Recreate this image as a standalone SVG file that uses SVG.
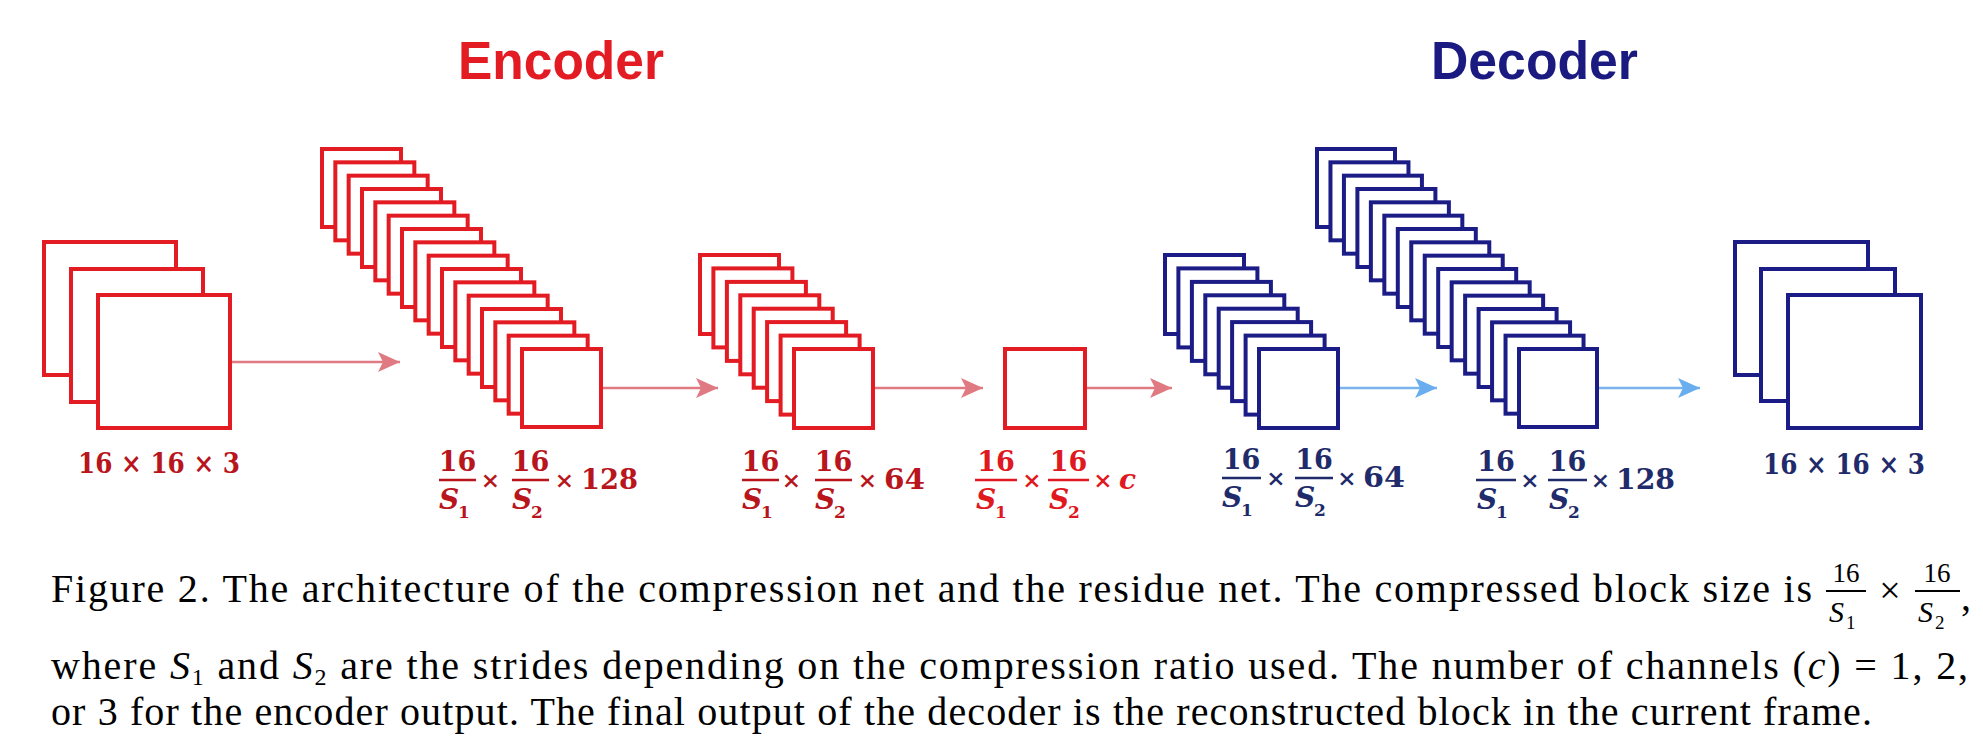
<svg xmlns="http://www.w3.org/2000/svg" width="1983" height="746" viewBox="0 0 1983 746">
<style>
.er{fill:#fff;stroke:#e31b23;stroke-width:4}
.dr{fill:#fff;stroke:#1c1c86;stroke-width:4}
.ttl{font-family:"Liberation Sans",Arial,sans-serif;font-weight:bold;font-size:54px}
.lb{font-family:"DejaVu Serif",serif;font-weight:bold;font-size:27px}
.lx{font-family:"DejaVu Serif",serif;font-weight:bold;font-size:23px}
.si{font-family:"DejaVu Serif",serif;font-weight:bold;font-style:italic;font-size:28px}
.sb{font-family:"DejaVu Serif",serif;font-weight:bold;font-size:17px}
.redl{fill:#b8151d}
.redc{fill:#e01820}
.navl{fill:#1f2b6a}
.barr{stroke:#b8151d;stroke-width:2.5}
.barc{stroke:#e01820;stroke-width:2.5}
.barn{stroke:#1f2b6a;stroke-width:2.5}
.cap{font-family:"Liberation Serif","Times New Roman",serif;font-size:40px;fill:#000}
.capm{font-family:"Liberation Serif","Times New Roman",serif;font-size:27px;fill:#000}
.capx{font-family:"Liberation Serif","Times New Roman",serif;font-size:38px;fill:#000}
.capi{font-family:"Liberation Serif","Times New Roman",serif;font-style:italic;font-size:30px;fill:#000}
.caps{font-family:"Liberation Serif","Times New Roman",serif;font-size:19px;fill:#000}
.ar{stroke:#e07a82;stroke-width:2.5;fill:none}
.ab{stroke:#7ab4ec;stroke-width:2.5;fill:none}
</style>
<defs>
<marker id="mr" markerUnits="userSpaceOnUse" markerWidth="24" markerHeight="22" refX="23" refY="11" orient="auto"><path d="M1,1 L23,11 L1,21 L6,11 Z" fill="#e07a82"/></marker>
<marker id="mb" markerUnits="userSpaceOnUse" markerWidth="24" markerHeight="22" refX="23" refY="11" orient="auto"><path d="M1,1 L23,11 L1,21 L6,11 Z" fill="#6aaef0"/></marker>
</defs>
<rect width="1983" height="746" fill="#fff"/>

<text class="ttl" x="458" y="79" fill="#e31b23" textLength="206" lengthAdjust="spacingAndGlyphs">Encoder</text>
<text class="ttl" x="1431" y="79" fill="#1a1a80" textLength="207" lengthAdjust="spacingAndGlyphs">Decoder</text>

<g id="connectors">
<line class="ar" x1="232" y1="362" x2="400" y2="362" marker-end="url(#mr)"/>
<line class="ar" x1="603" y1="388" x2="718" y2="388" marker-end="url(#mr)"/>
<line class="ar" x1="875" y1="388" x2="983" y2="388" marker-end="url(#mr)"/>
<line class="ar" x1="1087" y1="388" x2="1172" y2="388" marker-end="url(#mr)"/>
<line class="ab" x1="1340" y1="388" x2="1437" y2="388" marker-end="url(#mb)"/>
<line class="ab" x1="1597" y1="388" x2="1700" y2="388" marker-end="url(#mb)"/>
</g>

<g id="input">
<rect class="er" x="44" y="242" width="132" height="133"/>
<rect class="er" x="71" y="269" width="132" height="133"/>
<rect class="er" x="98" y="295" width="132" height="133"/>
<text class="lb redl" x="78" y="473" textLength="162" lengthAdjust="spacingAndGlyphs">16 × 16 × 3</text>
</g>

<g id="enc128">
<rect class="er" x="322" y="149" width="79" height="78"/>
<rect class="er" x="335.33" y="162.33" width="79" height="78"/>
<rect class="er" x="348.67" y="175.67" width="79" height="78"/>
<rect class="er" x="362" y="189" width="79" height="78"/>
<rect class="er" x="375.33" y="202.33" width="79" height="78"/>
<rect class="er" x="388.67" y="215.67" width="79" height="78"/>
<rect class="er" x="402" y="229" width="79" height="78"/>
<rect class="er" x="415.33" y="242.33" width="79" height="78"/>
<rect class="er" x="428.67" y="255.67" width="79" height="78"/>
<rect class="er" x="442" y="269" width="79" height="78"/>
<rect class="er" x="455.33" y="282.33" width="79" height="78"/>
<rect class="er" x="468.67" y="295.67" width="79" height="78"/>
<rect class="er" x="482" y="309" width="79" height="78"/>
<rect class="er" x="495.33" y="322.33" width="79" height="78"/>
<rect class="er" x="508.67" y="335.67" width="79" height="78"/>
<rect class="er" x="522" y="349" width="79" height="78"/>
<text class="lb redl" x="457.5" y="471" text-anchor="middle">16</text>
<line class="barr" x1="439" y1="480" x2="476" y2="480"/>
<text class="si redl" x="439" y="509">S</text><text class="sb redl" x="458" y="518">1</text>
<text class="lx redl" x="490.5" y="488" text-anchor="middle">×</text>
<text class="lb redl" x="530.5" y="471" text-anchor="middle">16</text>
<line class="barr" x1="512" y1="480" x2="549" y2="480"/>
<text class="si redl" x="512" y="509">S</text><text class="sb redl" x="531" y="518">2</text>
<text class="lx redl" x="564.5" y="488" text-anchor="middle">×</text>
<text class="lb redl" x="581" y="489" textLength="57" lengthAdjust="spacingAndGlyphs">128</text>
</g>

<g id="enc64">
<rect class="er" x="700" y="255" width="79" height="79"/>
<rect class="er" x="713.4" y="268.4" width="79" height="79"/>
<rect class="er" x="726.9" y="281.9" width="79" height="79"/>
<rect class="er" x="740.3" y="295.3" width="79" height="79"/>
<rect class="er" x="753.7" y="308.7" width="79" height="79"/>
<rect class="er" x="767.1" y="322.1" width="79" height="79"/>
<rect class="er" x="780.6" y="335.6" width="79" height="79"/>
<rect class="er" x="794" y="349" width="79" height="79"/>
<text class="lb redl" x="760.5" y="471" text-anchor="middle">16</text>
<line class="barr" x1="742" y1="480" x2="779" y2="480"/>
<text class="si redl" x="742" y="509">S</text><text class="sb redl" x="761" y="518">1</text>
<text class="lx redl" x="791.5" y="488" text-anchor="middle">×</text>
<text class="lb redl" x="833.5" y="471" text-anchor="middle">16</text>
<line class="barr" x1="815" y1="480" x2="852" y2="480"/>
<text class="si redl" x="815" y="509">S</text><text class="sb redl" x="834" y="518">2</text>
<text class="lx redl" x="867.5" y="488" text-anchor="middle">×</text>
<text class="lb redl" x="884" y="489" textLength="41" lengthAdjust="spacingAndGlyphs">64</text>
</g>

<g id="code">
<rect class="er" x="1005" y="349" width="80" height="79"/>
<text class="lb redc" x="996" y="471" text-anchor="middle">16</text>
<line class="barc" x1="975" y1="480" x2="1017" y2="480"/>
<text class="si redc" x="976" y="509">S</text><text class="sb redc" x="995" y="518">1</text>
<text class="lx redc" x="1032" y="488" text-anchor="middle">×</text>
<text class="lb redc" x="1068.5" y="471" text-anchor="middle">16</text>
<line class="barc" x1="1048" y1="480" x2="1089" y2="480"/>
<text class="si redc" x="1049" y="509">S</text><text class="sb redc" x="1068" y="518">2</text>
<text class="lx redc" x="1103" y="488" text-anchor="middle">×</text>
<text class="si redc" x="1119" y="489">c</text>
</g>

<g id="dec64">
<rect class="dr" x="1165" y="255" width="79" height="79"/>
<rect class="dr" x="1178.4" y="268.4" width="79" height="79"/>
<rect class="dr" x="1191.9" y="281.9" width="79" height="79"/>
<rect class="dr" x="1205.3" y="295.3" width="79" height="79"/>
<rect class="dr" x="1218.7" y="308.7" width="79" height="79"/>
<rect class="dr" x="1232.1" y="322.1" width="79" height="79"/>
<rect class="dr" x="1245.6" y="335.6" width="79" height="79"/>
<rect class="dr" x="1259" y="349" width="79" height="79"/>
<text class="lb navl" x="1241.5" y="469" text-anchor="middle">16</text>
<line class="barn" x1="1222" y1="478" x2="1261" y2="478"/>
<text class="si navl" x="1222" y="507">S</text><text class="sb navl" x="1241" y="516">1</text>
<text class="lx navl" x="1276" y="486" text-anchor="middle">×</text>
<text class="lb navl" x="1314" y="469" text-anchor="middle">16</text>
<line class="barn" x1="1295" y1="478" x2="1333" y2="478"/>
<text class="si navl" x="1295" y="507">S</text><text class="sb navl" x="1314" y="516">2</text>
<text class="lx navl" x="1347" y="486" text-anchor="middle">×</text>
<text class="lb navl" x="1363" y="487" textLength="42" lengthAdjust="spacingAndGlyphs">64</text>
</g>

<g id="dec128">
<rect class="dr" x="1317" y="149" width="78" height="78"/>
<rect class="dr" x="1330.47" y="162.33" width="78" height="78"/>
<rect class="dr" x="1343.93" y="175.67" width="78" height="78"/>
<rect class="dr" x="1357.4" y="189" width="78" height="78"/>
<rect class="dr" x="1370.87" y="202.33" width="78" height="78"/>
<rect class="dr" x="1384.33" y="215.67" width="78" height="78"/>
<rect class="dr" x="1397.8" y="229" width="78" height="78"/>
<rect class="dr" x="1411.27" y="242.33" width="78" height="78"/>
<rect class="dr" x="1424.73" y="255.67" width="78" height="78"/>
<rect class="dr" x="1438.2" y="269" width="78" height="78"/>
<rect class="dr" x="1451.67" y="282.33" width="78" height="78"/>
<rect class="dr" x="1465.13" y="295.67" width="78" height="78"/>
<rect class="dr" x="1478.6" y="309" width="78" height="78"/>
<rect class="dr" x="1492.07" y="322.33" width="78" height="78"/>
<rect class="dr" x="1505.53" y="335.67" width="78" height="78"/>
<rect class="dr" x="1519" y="349" width="78" height="78"/>
<text class="lb navl" x="1496" y="471" text-anchor="middle">16</text>
<line class="barn" x1="1476" y1="480" x2="1516" y2="480"/>
<text class="si navl" x="1477" y="509">S</text><text class="sb navl" x="1496" y="518">1</text>
<text class="lx navl" x="1530" y="488" text-anchor="middle">×</text>
<text class="lb navl" x="1567.5" y="471" text-anchor="middle">16</text>
<line class="barn" x1="1548" y1="480" x2="1587" y2="480"/>
<text class="si navl" x="1549" y="509">S</text><text class="sb navl" x="1568" y="518">2</text>
<text class="lx navl" x="1600.5" y="488" text-anchor="middle">×</text>
<text class="lb navl" x="1616" y="489" textLength="59" lengthAdjust="spacingAndGlyphs">128</text>
</g>

<g id="output">
<rect class="dr" x="1735" y="242" width="133" height="133"/>
<rect class="dr" x="1761" y="269" width="134" height="132"/>
<rect class="dr" x="1788" y="295" width="133" height="133"/>
<text class="lb navl" x="1763" y="474" textLength="162" lengthAdjust="spacingAndGlyphs">16 × 16 × 3</text>
</g>

<g id="caption">
<text class="cap" x="51" y="602" textLength="1761" lengthAdjust="spacing">Figure 2. The architecture of the compression net and the residue net. The compressed block size is</text>
<text class="capm" x="1846" y="582" text-anchor="middle">16</text>
<line x1="1826" y1="591" x2="1866" y2="591" stroke="#000" stroke-width="2"/>
<text class="capi" x="1829" y="622">S</text><text class="caps" x="1846" y="629">1</text>
<text class="capx" x="1890" y="603" text-anchor="middle">×</text>
<text class="capm" x="1937" y="582" text-anchor="middle">16</text>
<line x1="1915" y1="591" x2="1960" y2="591" stroke="#000" stroke-width="2"/>
<text class="capi" x="1918" y="622">S</text><text class="caps" x="1935" y="629">2</text>
<text class="cap" x="1961" y="610">,</text>
<text class="cap" x="51" y="679" textLength="1917" lengthAdjust="spacing">where <tspan font-style="italic">S</tspan><tspan font-size="24" dy="6">1</tspan><tspan dy="-6"> and </tspan><tspan font-style="italic">S</tspan><tspan font-size="24" dy="6">2</tspan><tspan dy="-6"> are the strides depending on the compression ratio used. The number of channels (</tspan><tspan font-style="italic">c</tspan>)  =  1, 2,</text>
<text class="cap" x="51" y="725" textLength="1821" lengthAdjust="spacing">or 3 for the encoder output. The final output of the decoder is the reconstructed block in the current frame.</text>
</g>
</svg>
